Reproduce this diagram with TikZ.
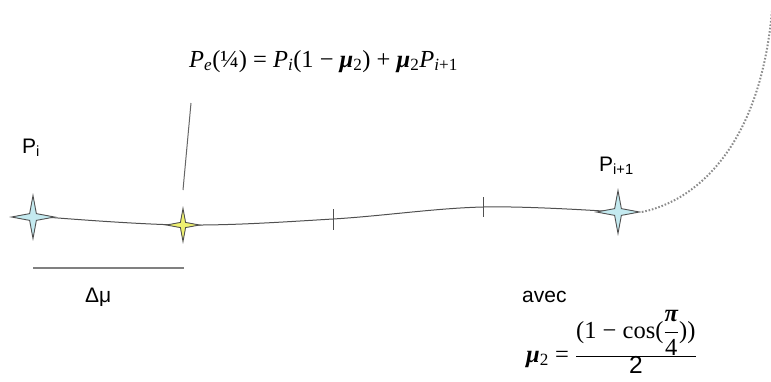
\documentclass[tikz,border=0pt]{standalone}
\usepackage{fontspec}
\setmainfont{Liberation Sans}
\newfontfamily\serifrm{Liberation Serif}
\usetikzlibrary{shapes.geometric, positioning, calc}

\definecolor{knotcyan}{HTML}{C4EAF0}
\definecolor{knotyellow}{HTML}{EEF070}
\definecolor{linegray}{HTML}{505050}

\begin{document}
\begin{tikzpicture}[
  x=1pt, y=-1pt,
  knot/.style={shape=star, star points=4, star point ratio=4.5,
               minimum size=43pt, inner sep=0pt, draw=linegray,
               line width=0.9pt, fill=knotcyan},
  midknot/.style={knot, minimum size=33pt, fill=knotyellow},
  curve/.style={draw=linegray, line width=1pt},
  lbl/.style={anchor=base west, inner sep=0pt, font=\fontsize{21}{25}\selectfont},
  eq/.style={anchor=base west, inner sep=0pt, font=\serifrm\fontsize{24.5}{28}\selectfont}
]
\useasboundingbox (0,0) rectangle (771,381);

% points of the curve
\coordinate (t1) at (333,219);
\coordinate (t2) at (483,207);
\coordinate (far) at (773,-4);

\draw[curve] plot[smooth, tension=0.6] coordinates
  {(33,216) (183,225) (t1) (t2) (618,212)};

\node[knot] (pi) at (33,217) {};
\node[midknot] (pe) at (183,225) {};
\node[knot] (pn) at (618,212) {};

% ticks
\draw[curve] ($(t1)+(0,-10)$) -- ($(t1)+(0,11)$);
\draw[curve] ($(t2)+(0,-10)$) -- ($(t2)+(0,10)$);

% next segment
\draw[gray!90, line width=2pt, dash pattern=on 1.6pt off 1.8pt] (pn.east) .. controls (700,200) and (765,140) .. (far);

% labels
\node[lbl] (lpi) at (22,153) {P\textsubscript{i}};
\node[lbl] (lpn) at (599,171) {P\textsubscript{i+1}};

% interval
\coordinate (da) at (33,268);
\coordinate (db) at (184,268);
\draw[gray, line width=1.6pt] (da) -- (db);
\node[lbl] (dmu) at (85,302) {Δμ};

% callout
\coordinate (cb) at (183,190);
\coordinate (ct) at (191,103);
\draw[gray!80!black, line width=1pt] (cb) -- (ct);
\node[eq] (peq) at (189,67)
  {\textit{P}\textsubscript{\textit{e}}(¼) = \textit{P}\textsubscript{\textit{i}}(1 − \textbf{\textit{μ}}\textsubscript{2}) + \textbf{\textit{μ}}\textsubscript{2}\textit{P}\textsubscript{\textit{i}+1}};

\node[lbl] (avec) at (522,302) {avec};
\node[eq] (mueq) at (526,362)
  {\textbf{\textit{μ}}\textsubscript{2} = $\frac{\mbox{\serifrm (1 − cos(}\displaystyle\frac{\mbox{\serifrm\bfseries\itshape π}}{\mbox{\serifrm 4}}\mbox{\serifrm ))}}{\mbox{\rmfamily 2}}$};
\end{tikzpicture}
\end{document}
